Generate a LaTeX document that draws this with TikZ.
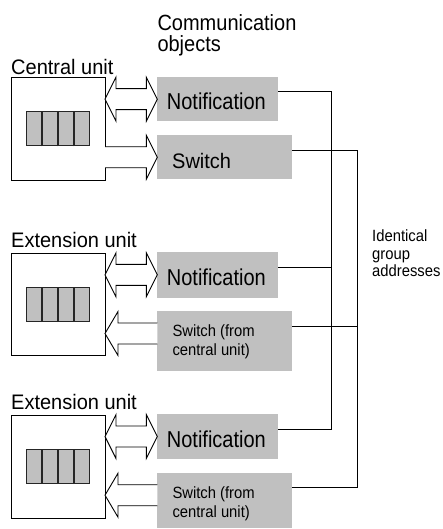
\documentclass[tikz,border=0pt]{standalone}
\usepackage{fontspec}
\usepackage{graphicx}
\setmainfont{Liberation Sans}
\usetikzlibrary{calc}
\definecolor{objgrey}{RGB}{192,192,192}
\newcommand{\vst}[2]{\scalebox{1}[#1]{#2}}
\newcommand{\dbarrow}[2]{\draw[fatarrow] let \p1=(#1.east), \p2=($(#2.north west)+(0,-22.5)$) in
  (\x1,\y2) -- ++(11,22) -- ++(0,-11.5) -- (\x2-11pt,\y2+10.5pt) -- ++(0,11.5) -- (\x2,\y2)
  -- ++(-11,-22) -- ++(0,11.5) -- (\x1+11pt,\y2-10.5pt) -- ++(0,-11.5) -- cycle;}
\newcommand{\lfarrow}[2]{\draw[fatarrow] let \p1=(#1.east), \p2=($(#2.north west)+(0,-22.5)$) in
  (\x2,\y2+10.5pt) -- (\x1+13pt,\y2+10.5pt) -- ++(0,11.5) -- (\x1,\y2) -- ++(13,-22) -- ++(0,11.5) -- (\x2,\y2-10.5pt);}
\begin{document}
\begin{tikzpicture}[x=1pt,y=1pt,
 unitbox/.style={draw, line width=0.9pt, minimum width=94pt, minimum height=103pt, inner sep=0pt, outer sep=0pt, anchor=north west},
 objbox/.style={fill=objgrey, inner sep=0pt, outer sep=0pt, anchor=north west},
 gridbox/.style={draw=black!85, fill=objgrey, line width=1.3pt, minimum width=62.6pt, minimum height=34pt, inner sep=0pt},
 gridline/.style={draw=black!85, line width=1.3pt},
 bigtext/.style={font=\fontsize{20}{21.6}\selectfont, inner sep=0pt, anchor=base west},
 smalltext/.style={font=\fontsize{14.8}{19.2}\selectfont, inner sep=0pt, anchor=base west},
 bus/.style={line width=0.9pt},
 fatarrow/.style={draw, fill=white, line width=0.9pt, line join=miter, miter limit=10}]

\useasboundingbox (0,0) rectangle (443,-529);

% units
\node[unitbox] (cu) at (11,-77.3) {};
\node[unitbox, minimum height=102.4pt] (eu1) at (11,-253.3) {};
\node[unitbox] (eu2) at (11,-415) {};
\foreach \u in {cu,eu1,eu2}{
  \node[gridbox] (g\u) at (\u.center) {};
  \foreach \i in {1,2,3}
    \draw[gridline] ($(g\u.south west)!\i/4!(g\u.south east)$) -- ($(g\u.north west)!\i/4!(g\u.north east)$);
}

% labels
\node[bigtext] (cul) at (11,-75) {\vst{1.05}{Central unit}};
\node[bigtext] (eu1l) at (11,-247.3) {\vst{1.05}{Extension unit}};
\node[bigtext] (eu2l) at (11,-409.3) {\vst{1.05}{Extension unit}};
\node[bigtext] (title1) at (157.3,-30.7) {\vst{1.1}{Communication}};
\node[bigtext] (title2) at (157.3,-51.7) {\vst{1.1}{objects}};

% communication objects
\node[objbox, minimum width=121pt, minimum height=44pt] (n1) at (157.3,-76.7) {};
\node[objbox, minimum width=135pt, minimum height=44.3pt] (s1) at (157.3,-135) {};
\node[objbox, minimum width=121pt, minimum height=45.4pt] (n2) at (157.3,-252.3) {};
\node[objbox, minimum width=135pt, minimum height=60pt] (s2) at (157.3,-311) {};
\node[objbox, minimum width=121pt, minimum height=45.3pt] (n3) at (157.3,-414) {};
\node[objbox, minimum width=135pt, minimum height=55.6pt] (s3) at (157.3,-472.7) {};

\node[bigtext] (n1t) at ($(n1.north west)+(9.4,-33)$) {\vst{1.15}{Notification}};
\node[bigtext] (n2t) at ($(n2.north west)+(9.4,-33)$) {\vst{1.15}{Notification}};
\node[bigtext] (n3t) at ($(n3.north west)+(9.4,-33)$) {\vst{1.15}{Notification}};
\node[bigtext] (s1t) at ($(s1.north west)+(14.7,-33.3)$) {\vst{1.05}{Switch}};
\node[smalltext] (s2t) at ($(s2.north west)+(15,-25.7)$) {\vst{1.1}{Switch (from}};
\node[smalltext] (s2u) at ($(s2.north west)+(15,-44.7)$) {\vst{1.1}{central unit)}};
\node[smalltext] (s3t) at ($(s3.north west)+(15,-25.7)$) {\vst{1.1}{Switch (from}};
\node[smalltext] (s3u) at ($(s3.north west)+(15,-44.7)$) {\vst{1.1}{central unit)}};

% fat arrows
\dbarrow{cu}{n1}
\dbarrow{eu1}{n2}
\dbarrow{eu2}{n3}
\draw[fatarrow] let \p1=(cu.east), \p2=($(s1.north west)+(0,-22.3)$) in
  (\x1,\y2+10.5pt) -- (\x2-11pt,\y2+10.5pt) -- ++(0,11.5) -- (\x2,\y2) -- ++(-11,-22) -- ++(0,11.5) -- (\x1,\y2-10.5pt);
\lfarrow{eu1}{s2}
\lfarrow{eu2}{s3}

% group address lines
\coordinate (nbx) at (331.7,0);
\coordinate (sbx) at (357.7,0);
\coordinate (n1p) at ($(n1.north east)+(0,-15)$);
\coordinate (n2p) at ($(n2.north east)+(0,-15)$);
\coordinate (n3p) at ($(n3.north east)+(0,-15)$);
\coordinate (s1p) at ($(s1.north east)+(0,-15)$);
\coordinate (s2p) at ($(s2.north east)+(0,-15)$);
\coordinate (s3p) at ($(s3.north east)+(0,-15)$);
\draw[bus] (n1p) -| (nbx |- n3p) -- (n3p);
\draw[bus] (n2p) -- (nbx |- n2p);
\draw[bus] (s1p) -| (sbx |- s3p) -- (s3p);
\draw[bus] (s2p) -- (sbx |- s2p);

\node[smalltext] (id1) at (372,-241.7) {\vst{1.1}{Identical}};
\node[smalltext] (id2) at (372,-259.3) {\vst{1.1}{group}};
\node[smalltext] (id3) at (372,-276.8) {\vst{1.1}{addresses}};
\end{tikzpicture}
\end{document}
